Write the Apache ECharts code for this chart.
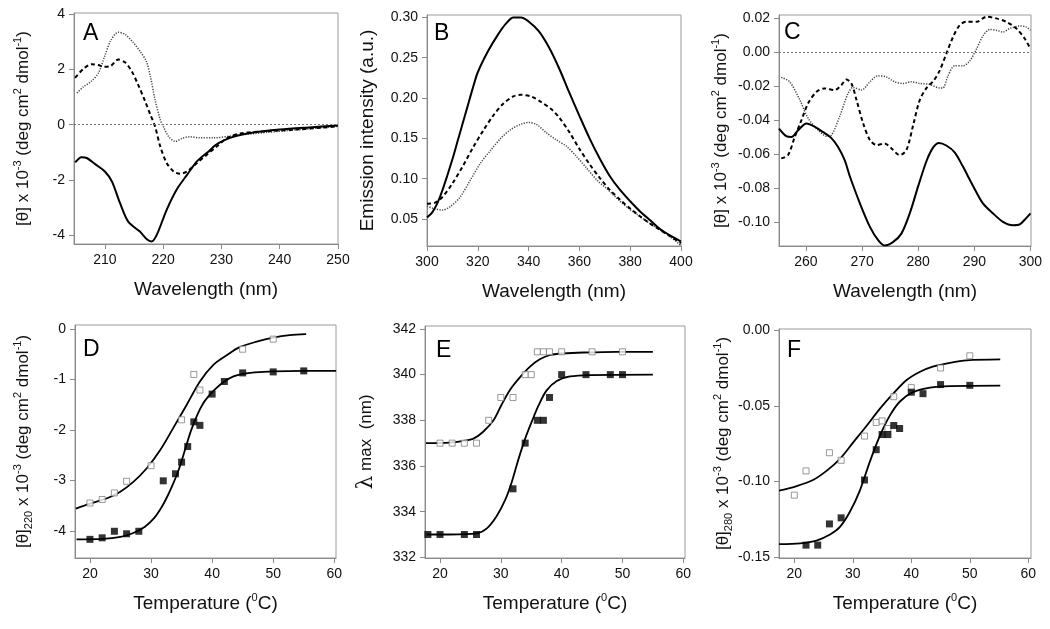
<!DOCTYPE html>
<html><head><meta charset="utf-8">
<script src="https://cdn.jsdelivr.net/npm/echarts@6/dist/echarts.min.js"></script>
<style>html,body{margin:0;padding:0;background:#fff}#c{width:1050px;height:629px}</style>
</head><body><div id="c"></div>
<script>
// ---------- Panel A : far-UV CD ----------
const aSolidX = [204.9,206.0,206.9,208.5,210.0,211.2,212.6,214.0,216.0,217.2,218.0,218.9,220.6,222.3,224.1,225.8,227.8,229.0,230.5,232.5,235.0,240.0,245.0,250.0];
const aSolidY = [-1.37,-1.18,-1.21,-1.46,-1.70,-2.06,-2.85,-3.52,-3.88,-4.16,-4.24,-4.00,-3.09,-2.36,-1.82,-1.33,-0.97,-0.74,-0.56,-0.41,-0.30,-0.18,-0.10,-0.03];
const aDashX = [204.9,206.3,207.7,208.9,209.7,210.9,212.3,213.5,214.6,215.7,216.9,217.8,218.6,219.5,220.6,221.8,222.9,224.1,225.8,227.5,229.2,230.9,233.2,237.8,243.5,250.0];
const aDashY = [1.70,2.02,2.19,2.16,2.10,2.12,2.36,2.25,1.94,1.45,0.85,0.36,-0.06,-0.79,-1.39,-1.70,-1.78,-1.70,-1.39,-1.09,-0.79,-0.50,-0.32,-0.24,-0.17,-0.06];
const aDotX = [205.2,206.3,207.7,208.9,210.0,211.0,212.3,213.5,214.9,216.0,217.1,217.8,218.6,219.5,220.1,220.9,222.1,223.2,224.6,226.3,228.6,232.1,237.8,243.5,250.0];
const aDotY = [1.15,1.37,1.58,1.88,2.50,3.05,3.35,3.27,2.97,2.67,2.30,1.76,0.91,0.18,-0.10,-0.42,-0.61,-0.50,-0.44,-0.48,-0.48,-0.40,-0.28,-0.18,-0.06];
const aXTicks = [210,220,230,240,250];
const aYTicks = [-4,-2,0,2,4];

// ---------- Panel B : fluorescence emission ----------
const bSolidX = [300,302,304,306,308,310,312,314,316,318,320,324,328,331,334,337,340,344,348,352,356,360,364,368,372,376,380,384,388,392,396,400];
const bSolidY = [0.052,0.058,0.069,0.085,0.104,0.124,0.146,0.168,0.190,0.212,0.232,0.258,0.279,0.292,0.300,0.300,0.295,0.283,0.263,0.237,0.207,0.178,0.150,0.125,0.103,0.086,0.072,0.059,0.048,0.037,0.029,0.022];
const bDashX = [300,303,306,310,314,318,322,326,330,334,337,341,345,349,352,356,360,364,368,372,376,380,384,388,392,396,400];
const bDashY = [0.069,0.070,0.077,0.094,0.115,0.138,0.159,0.178,0.193,0.202,0.204,0.202,0.195,0.186,0.176,0.158,0.137,0.118,0.101,0.086,0.074,0.063,0.053,0.044,0.036,0.028,0.020];
const bDotX = [300,302.6,306,309,313,317,321,325,329,333,337,340,343,347,351,355,359,363,367,371,375,379,383,387,391,395,400];
const bDotY = [0.066,0.063,0.061,0.065,0.077,0.098,0.119,0.135,0.150,0.161,0.1675,0.1696,0.1675,0.157,0.148,0.140,0.127,0.1125,0.098,0.087,0.075,0.064,0.055,0.046,0.038,0.030,0.017];
const bXTicks = [300,320,340,360,380,400];
const bYTicks = [0.05,0.10,0.15,0.20,0.25,0.30];

// ---------- Panel C : near-UV CD ----------
const cSolidX = [255.2,256.5,257.4,258.6,260.1,261.6,263.0,264.5,265.7,266.9,267.8,269.6,271.4,272.9,274.0,275.5,277.0,278.5,280.0,281.5,282.7,283.7,285.0,286.5,287.9,289.8,291.5,293.3,295.1,296.9,298.1,299.2,300.0];
const cSolidY = [-0.045,-0.0495,-0.050,-0.046,-0.042,-0.044,-0.047,-0.0505,-0.0558,-0.0637,-0.073,-0.089,-0.103,-0.111,-0.114,-0.112,-0.107,-0.095,-0.079,-0.064,-0.056,-0.0535,-0.055,-0.059,-0.067,-0.079,-0.089,-0.095,-0.100,-0.102,-0.1015,-0.098,-0.095];
const cDashX = [255.6,256.8,258.0,259.2,260.4,261.9,263.3,265.1,266.3,267.2,268.1,269.0,270.2,271.4,272.6,274.0,275.2,276.7,277.9,279.1,280.3,281.5,282.7,283.8,285.0,286.2,287.4,288.6,290.4,292.2,293.9,295.7,297.5,299.0,300.0];
const cDashY = [-0.0626,-0.0607,-0.050,-0.040,-0.030,-0.0233,-0.0213,-0.0223,-0.0194,-0.016,-0.0184,-0.028,-0.042,-0.0518,-0.0548,-0.0538,-0.0566,-0.0607,-0.0577,-0.043,-0.028,-0.021,-0.017,-0.011,-0.001,0.009,0.016,0.018,0.018,0.021,0.020,0.018,0.014,0.008,0.002];
const cDotX = [255.6,257.1,258.9,260.4,262.2,263.7,264.5,266.0,267.5,268.4,269.9,271.4,272.8,274.3,275.8,277.3,278.8,280.3,282.1,283.8,284.4,285.3,286.5,288.0,289.2,290.4,291.6,292.8,293.9,295.1,296.3,298.1,299.2,300.0];
const cDotY = [-0.0148,-0.0174,-0.028,-0.039,-0.046,-0.0495,-0.049,-0.038,-0.0243,-0.0207,-0.0223,-0.0174,-0.0139,-0.0145,-0.0174,-0.0184,-0.0174,-0.0184,-0.019,-0.021,-0.021,-0.014,-0.008,-0.008,-0.005,0.002,0.010,0.0135,0.013,0.012,0.014,0.0155,0.015,0.013];
const cXTicks = [260,270,280,290,300];
const cYTicks = [-0.10,-0.08,-0.06,-0.04,-0.02,0.00,0.02];

// ---------- Panel D : [θ]220 vs temperature ----------
const dOpenX = [20,22,24,26,30,35,37,38,45,50];
const dOpenY = [-3.45,-3.38,-3.25,-3.02,-2.71,-1.80,-0.90,-1.21,-0.40,-0.20];
const dFillX = [20,22,24,26,28,32,34,35,36,37,38,40,42,45,50,55];
const dFillY = [-4.17,-4.14,-4.01,-4.06,-4.01,-3.01,-2.87,-2.64,-2.33,-1.84,-1.91,-1.29,-1.04,-0.87,-0.85,-0.83];
const dOpenFitX = [17.7,20,22.7,24.9,27.1,29.3,31.5,33.6,35.8,38.0,40.2,42.4,44.5,47.3,50.0,52.7,55.4];
const dOpenFitY = [-3.56,-3.46,-3.36,-3.23,-3.03,-2.76,-2.40,-1.97,-1.51,-1.04,-0.71,-0.52,-0.36,-0.25,-0.17,-0.12,-0.10];
const dFillFitX = [17.8,22,25,27,29,30.5,31.5,32.5,33.5,34.5,35.5,36.5,37.5,38.5,39.5,40.5,42,43.5,45,47,50,55,60.3];
const dFillFitY = [-4.17,-4.16,-4.12,-4.05,-3.92,-3.75,-3.58,-3.36,-3.10,-2.80,-2.42,-2.03,-1.72,-1.48,-1.32,-1.19,-1.04,-0.94,-0.89,-0.86,-0.84,-0.83,-0.83];
const dXTicks = [20,30,40,50,60];
const dYTicks = [-4,-3,-2,-1,0];

// ---------- Panel E : λmax vs temperature ----------
const eOpenX = [20,22,24,26,28,30,32,34,35,36,37,38,40,45,50];
const eOpenY = [337,337,337,337,338,339,339,340,340,341,341,341,341,341,341];
const eFillX = [18,20,24,26,32,34,36,37,38,40,44,48,50];
const eFillY = [333,333,333,333,335,337,338,338,339,340,340,340,340];
const eOpenFitX = [17.7,21.6,23.8,25.5,27.1,28.8,30.1,31.5,33.2,34.8,36.4,38.1,40.3,43.6,49,55];
const eOpenFitY = [337.0,337.02,337.1,337.2,337.5,338.0,338.67,339.33,339.9,340.35,340.67,340.86,340.93,340.97,341,341];
const eFillFitX = [17.8,21.6,26.0,27.7,29.3,30.7,31.8,32.9,34.0,35.1,36.2,37.5,39.2,41.4,44.7,55];
const eFillFitY = [333.0,333.0,333.05,333.27,333.8,334.5,335.3,336.3,337.2,337.95,338.65,339.3,339.72,339.92,339.98,340];
const eXTicks = [20,30,40,50,60];
const eYTicks = [332,334,336,338,340,342];

// ---------- Panel F : [θ]280 vs temperature ----------
const fOpenX = [20,22,26,28,32,34,35,36,37,40,45,50];
const fOpenY = [-0.109,-0.093,-0.081,-0.086,-0.070,-0.061,-0.060,-0.065,-0.044,-0.038,-0.025,-0.017];
const fFillX = [22,24,26,28,32,34,35,36,37,38,40,42,45,50];
const fFillY = [-0.142,-0.142,-0.128,-0.124,-0.099,-0.079,-0.069,-0.069,-0.063,-0.065,-0.041,-0.042,-0.036,-0.0365];
const fOpenFitX = [17.4,20.4,23.2,25.5,27.8,30.1,32.4,34.6,36.9,39.2,41.5,43.8,46.6,49.5,55.2];
const fOpenFitY = [-0.106,-0.103,-0.099,-0.093,-0.085,-0.074,-0.063,-0.052,-0.042,-0.033,-0.0275,-0.024,-0.0216,-0.020,-0.0194];
const fFillFitX = [17.4,21.0,23.8,26.1,27.8,29.5,31.2,32.9,34.6,36.4,38.1,40.3,43.2,46.6,55.2];
const fFillFitY = [-0.1414,-0.1408,-0.139,-0.135,-0.130,-0.120,-0.106,-0.087,-0.070,-0.056,-0.047,-0.041,-0.038,-0.037,-0.0367];
const fXTicks = [20,30,40,50,60];
const fYTicks = [-0.15,-0.10,-0.05,0.00];

// ---------- build ----------
const zip = (xs, ys) => xs.map((x, i) => [x, ys[i]]);
const FONT = '"Liberation Sans", Arial, sans-serif';
const AXC = '#8a8a8a';

const panels = [
  {g:{left:74,top:13,width:264,height:231}, x:[204.7,250], y:[-4.33,4.05], xt:aXTicks, yt:aYTicks, yd:0,
   xName:'Wavelength (nm)', yName:'[θ] x 10{sup|-3} (deg cm{sup|2} dmol{sup|-1})', yGap:40, L:'A', lx:83, ly:34},
  {g:{left:427,top:15,width:254,height:231}, x:[300,400], y:[0.0165,0.303], xt:bXTicks, yt:bYTicks, yd:2,
   xName:'Wavelength (nm)', yName:'Emission intensity (a.u.)', yGap:48, L:'B', lx:434, ly:34},
  {g:{left:779,top:15,width:252,height:231}, x:[255.2,300.1], y:[-0.1143,0.022], xt:cXTicks, yt:cYTicks, yd:2,
   xName:'Wavelength (nm)', yName:'[θ] x 10{sup|-3} (deg cm{sup|2} dmol{sup|-1})', yGap:47, L:'C', lx:784, ly:33},
  {g:{left:75,top:325,width:261,height:233}, x:[17.55,60.28], y:[-4.54,0.08], xt:dXTicks, yt:dYTicks, yd:0,
   xName:'Temperature ({sup|0}C)', yName:'[θ]{sub|220} x 10{sup|-3} (deg cm{sup|2} dmol{sup|-1})', yGap:41, L:'D', lx:83, ly:350},
  {g:{left:425,top:326,width:260,height:232}, x:[17.53,60.28], y:[331.97,342.13], xt:eXTicks, yt:eYTicks, yd:0,
   xName:'Temperature ({sup|0}C)', yName:'{lam|λ} max  (nm)', yGap:48, L:'E', lx:436, ly:351},
  {g:{left:779,top:329,width:252,height:229}, x:[17.38,60.46], y:[-0.1505,0.0007], xt:fXTicks, yt:fYTicks, yd:2,
   xName:'Temperature ({sup|0}C)', yName:'[θ]{sub|280} x 10{sup|-3} (deg cm{sup|2} dmol{sup|-1})', yGap:45, L:'F', lx:787, ly:351}
];

const rich = {
  sup: {fontSize: 11, verticalAlign: 'top', fontFamily: FONT, color: '#111'},
  sub: {fontSize: 11, verticalAlign: 'bottom', fontFamily: FONT, color: '#111'},
  lam: {fontSize: 22, fontFamily: '"DejaVu Serif", serif', color: '#111'}
};

const grid = [], xAxis = [], yAxis = [], graphic = [];
panels.forEach((p, i) => {
  grid.push(Object.assign({show: true, borderColor: '#9a9a9a', borderWidth: 1, backgroundColor: '#fff', containLabel: false, outerBoundsMode: 'none'}, p.g));
  xAxis.push({
    type: 'value', gridIndex: i, min: p.x[0], max: p.x[1],
    axisLine: {show: true, onZero: false, lineStyle: {color: AXC, width: 1}},
    axisTick: {show: true, inside: false, length: 5, customValues: p.xt, lineStyle: {color: AXC}},
    axisLabel: {customValues: p.xt, margin: 9, fontSize: 14, color: '#111', fontFamily: FONT, formatter: v => String(Math.round(v))},
    splitLine: {show: false},
    name: p.xName, nameLocation: 'middle', nameGap: 34,
    nameTextStyle: {fontSize: 19, fontFamily: FONT, color: '#111', lineHeight: 24, rich: rich}
  });
  yAxis.push({
    type: 'value', gridIndex: i, min: p.y[0], max: p.y[1],
    axisLine: {show: true, onZero: false, lineStyle: {color: AXC, width: 1}},
    axisTick: {show: true, inside: false, length: 5, customValues: p.yt, lineStyle: {color: AXC}},
    axisLabel: {customValues: p.yt, margin: 9, fontSize: 14, color: '#111', fontFamily: FONT,
      formatter: v => { let s = Number(v).toFixed(p.yd); if (parseFloat(s) === 0) s = s.replace('-', ''); return s; }},
    splitLine: {show: false},
    name: p.yName, nameLocation: 'middle', nameGap: p.yGap, nameRotate: 90,
    nameTextStyle: {fontSize: (i === 1 ? 19 : 17), fontFamily: FONT, color: '#111', lineHeight: 22, rich: rich}
  });
  graphic.push({type: 'text', x: p.lx, y: p.ly, z: 100,
    style: {text: p.L, fontSize: 23, fontFamily: FONT, fill: '#000', align: 'left', verticalAlign: 'middle'}});
});

const solid = {color: '#000', width: 2, type: 'solid'};
const dashed = {color: '#000', width: 2, type: [4, 3]};
const dotted = {color: '#444', width: 1.5, type: [1.2, 1.4]};
const zeroLine = {silent: true, symbol: 'none', label: {show: false}, animation: false,
  lineStyle: {color: '#777', width: 1, type: [2, 2]}, data: [{yAxis: 0}]};

function line(i, xs, ys, style, extra) {
  return Object.assign({type: 'line', xAxisIndex: i, yAxisIndex: i, data: zip(xs, ys), showSymbol: false,
    smooth: 0.3, lineStyle: style, animation: false, silent: true}, extra || {});
}
function pts(i, xs, ys, open) {
  return {type: 'scatter', xAxisIndex: i, yAxisIndex: i, data: zip(xs, ys), symbol: 'rect',
    symbolSize: open ? 6 : 7, animation: false, silent: true, z: 5,
    itemStyle: open ? {color: '#fff', borderColor: '#808080', borderWidth: 1} : {color: '#000'}};
}

const series = [
  line(0, aDotX, aDotY, dotted, {markLine: zeroLine}),
  line(0, aDashX, aDashY, dashed),
  line(0, aSolidX, aSolidY, solid),
  line(1, bDotX, bDotY, dotted),
  line(1, bDashX, bDashY, dashed),
  line(1, bSolidX, bSolidY, solid),
  line(2, cDotX, cDotY, dotted, {markLine: zeroLine}),
  line(2, cDashX, cDashY, dashed),
  line(2, cSolidX, cSolidY, solid),
  line(3, dOpenFitX, dOpenFitY, {color: '#000', width: 1.8}),
  line(3, dFillFitX, dFillFitY, {color: '#000', width: 1.8}),
  pts(3, dOpenX, dOpenY, true),
  pts(3, dFillX, dFillY, false),
  line(4, eOpenFitX, eOpenFitY, {color: '#000', width: 1.8}),
  line(4, eFillFitX, eFillFitY, {color: '#000', width: 1.8}),
  pts(4, eOpenX, eOpenY, true),
  pts(4, eFillX, eFillY, false),
  line(5, fOpenFitX, fOpenFitY, {color: '#000', width: 1.8}),
  line(5, fFillFitX, fFillFitY, {color: '#000', width: 1.8}),
  pts(5, fOpenX, fOpenY, true),
  pts(5, fFillX, fFillY, false)
];

const chart = echarts.init(document.getElementById('c'), null, {renderer: 'canvas'});
chart.setOption({backgroundColor: '#fff', animation: false, grid, xAxis, yAxis, series, graphic});
</script>
</body></html>
